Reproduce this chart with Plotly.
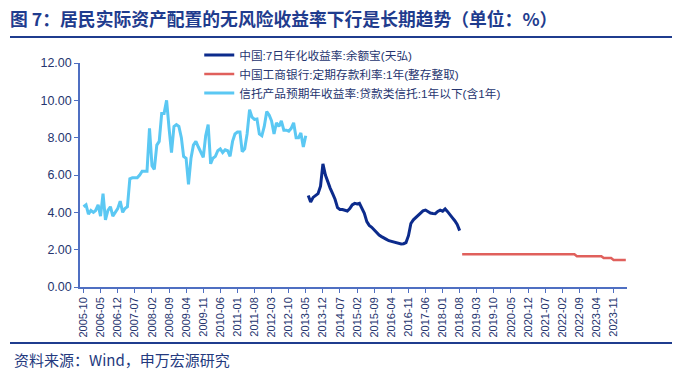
import pandas as pd
import plotly.graph_objects as go

# ---------------- data ----------------
trust_start = "2005-10-01"
trust_values = [4.3, 4.4, 3.9, 4.1, 4.0, 4.1, 4.4, 3.8, 5.0, 3.6,
                4.1, 4.3, 3.8, 4.0, 4.2, 4.6, 4.0, 4.2, 4.3, 5.8,
                5.85, 5.85, 5.85, 6.0, 6.2, 6.2, 6.2, 8.5, 6.5, 6.3,
                7.6, 7.8, 9.3, 9.3, 10.0, 8.5, 7.2, 8.6, 8.7, 8.6,
                8.0, 7.0, 6.9, 5.5, 6.9, 7.6, 7.8, 7.5, 7.2, 6.95,
                8.1, 8.7, 6.6, 6.9, 7.0, 7.3, 7.4, 7.2, 7.35, 7.3,
                7.0, 7.8, 8.2, 8.3, 8.3, 7.25, 7.4, 8.2, 9.5, 9.1,
                8.98, 9.0, 8.2, 8.1, 8.6, 9.4, 9.2, 8.9, 8.2, 8.8,
                8.6, 8.9, 8.4, 8.4, 8.35, 8.5, 8.8, 8.0, 8.0, 8.25,
                7.5, 8.1]

yuebao_start = "2013-06-01"
yuebao_values = [4.9, 4.55, 4.8, 4.9, 5.0, 5.4, 6.6, 6.0, 5.6, 5.3,
                 5.0, 4.7, 4.25, 4.15, 4.15, 4.12, 4.07, 4.2, 4.4, 4.48,
                 4.45, 4.48, 4.25, 3.95, 3.5, 3.3, 3.2, 3.05, 2.9, 2.78,
                 2.7, 2.6, 2.55, 2.48, 2.45, 2.42, 2.4, 2.36, 2.3, 2.32,
                 2.38, 2.75, 3.4, 3.6, 3.72, 3.85, 4.0, 4.08, 4.12, 4.02,
                 3.96, 3.94, 3.93, 4.05, 4.12, 4.06, 4.18, 4.05, 3.85, 3.72,
                 3.55, 3.35, 3.02]

deposit_start = "2018-09-01"
deposit_values = [1.75] * 47 + [1.65] * 11 + [1.55] * 4 + [1.45] * 6

tick_labels = ["2005-10", "2006-05", "2006-12", "2007-07", "2008-02", "2008-09",
               "2009-04", "2009-11", "2010-06", "2011-01", "2011-08", "2012-03",
               "2012-10", "2013-05", "2013-12", "2014-07", "2015-02", "2015-09",
               "2016-04", "2016-11", "2017-06", "2018-01", "2018-08", "2019-03",
               "2019-10", "2020-05", "2020-12", "2021-07", "2022-02", "2022-09",
               "2023-04", "2023-11"]

name_yuebao = "中国:7日年化收益率:余额宝(天弘)"
name_deposit = "中国工商银行:定期存款利率:1年(整存整取)"
name_trust = "信托产品预期年收益率:贷款类信托:1年以下(含1年)"

# ---------------- figure ----------------
def months(start, n):
    return pd.date_range(start, periods=n, freq="MS")

FONT = "Liberation Sans, Arial, Noto Sans CJK SC, sans-serif"
AXIS = "#4F6FC2"
TXT = "#26356F"

fig = go.Figure()
fig.add_trace(go.Scatter(x=months(yuebao_start, len(yuebao_values)), y=yuebao_values,
                         mode="lines", name=name_yuebao,
                         line=dict(color="#0C2B8C", width=3)))
fig.add_trace(go.Scatter(x=months(deposit_start, len(deposit_values)), y=deposit_values,
                         mode="lines", name=name_deposit,
                         line=dict(color="#E0605C", width=2.5)))
fig.add_trace(go.Scatter(x=months(trust_start, len(trust_values)), y=trust_values,
                         mode="lines", name=name_trust,
                         line=dict(color="#5BC8F3", width=3)))

fig.update_layout(
    width=699, height=376,
    margin=dict(l=80, r=72, t=63, b=89),
    paper_bgcolor="white", plot_bgcolor="white",
    font=dict(family=FONT, size=11, color=TXT),
    showlegend=True,
    legend=dict(x=0.218, y=1.1, xanchor="left", yanchor="top",
                bgcolor="rgba(0,0,0,0)", font=dict(size=11.7, color=TXT),
                tracegroupgap=0, itemwidth=30),
    title=dict(text="<b>图 7：居民实际资产配置的无风险收益率下行是长期趋势（单位：%）</b>",
               x=10 / 699, xanchor="left", xref="container",
               y=1 - 20 / 376, yanchor="middle", yref="container",
               font=dict(family="Noto Sans CJK SC, sans-serif", size=17.8, color="#1F3C8E")),
    xaxis=dict(
        type="date",
        range=["2005-08-18", "2024-04-16"],
        tickmode="array",
        tickvals=[t + "-01" for t in tick_labels],
        ticktext=tick_labels,
        tickangle=-90,
        ticks="outside", ticklen=4, tickcolor=AXIS, tickwidth=1,
        showline=True, linecolor=AXIS, linewidth=1.5,
        showgrid=False, zeroline=False,
        tickfont=dict(size=11, color=TXT),
    ),
    yaxis=dict(
        range=[0, 12], dtick=2, tickformat=".2f",
        ticks="outside", ticklen=4, tickcolor=AXIS, tickwidth=1,
        showline=True, linecolor=AXIS, linewidth=1.5,
        showgrid=False, zeroline=False,
        tickfont=dict(size=12.5, color=TXT),
    ),
)

# title underline and bottom rule
fig.add_shape(type="line", xref="paper", yref="paper",
              x0=(10 - 80) / 547, x1=(672 - 80) / 547,
              y0=(287 - 37) / 224, y1=(287 - 37) / 224,
              line=dict(color="#1F3C8E", width=2))
fig.add_shape(type="line", xref="paper", yref="paper",
              x0=(10 - 80) / 547, x1=(672 - 80) / 547,
              y0=(287 - 343) / 224, y1=(287 - 343) / 224,
              line=dict(color="#1F3C8E", width=2))

fig.add_annotation(text="资料来源：Wind，申万宏源研究", xref="paper", yref="paper",
                   x=(12 - 80) / 547, y=(287 - 359) / 224, xanchor="left", yanchor="middle",
                   showarrow=False,
                   font=dict(family="Noto Sans CJK SC, sans-serif", size=15, color="#24397E"))

fig.write_html("out.html",
               config={"displayModeBar": False},
               post_script="document.body.style.margin='0';document.body.style.overflow='hidden';")
